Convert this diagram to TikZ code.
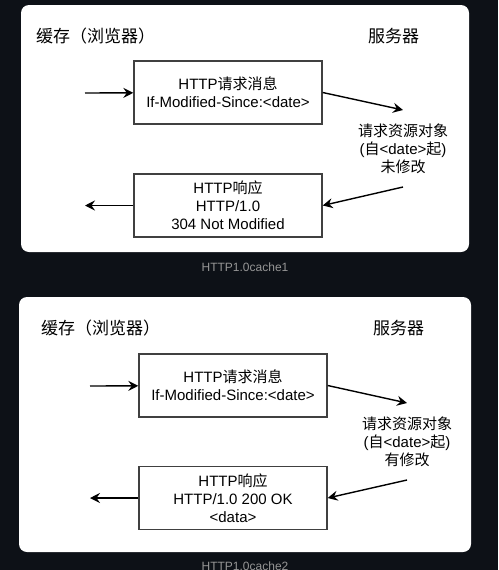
\documentclass[tikz,border=0pt]{standalone}
\usepackage{fontspec}
\setmainfont{Liberation Sans}
\newfontfamily\cjk{Noto Sans CJK SC}
\usetikzlibrary{arrows.meta}
\definecolor{pagebg}{RGB}{13,17,23}
\definecolor{capgray}{RGB}{150,150,150}
\newcommand{\msgfont}{\fontsize{15}{18}\selectfont}
\newcommand{\headfont}{\fontsize{17}{20}\selectfont}
\newcommand{\capfont}{\fontsize{12}{14}\selectfont}

\begin{document}
\begin{tikzpicture}[x=1pt, y=-1pt,
    panel/.style={fill=white, rounded corners=8pt},
    msgbox/.style={draw=black!75, line width=1.4pt, minimum width=188pt, minimum height=63pt, align=center, font=\msgfont, inner sep=0pt},
    titletext/.style={anchor=west, font=\headfont, inner sep=0pt},
    notetext/.style={align=center, font=\msgfont, inner sep=0pt},
    captext/.style={font=\capfont, text=capgray, inner sep=0pt},
    msgarrow/.style={-{Stealth[length=10pt, width=10pt, inset=3.5pt]}, line width=1.4pt}]
         \fill [pagebg] (0, 0) rectangle (498, 570);
         \useasboundingbox (0, 0) rectangle (498, 570);

         % first panel: 304 Not Modified
         \fill [panel] (21, 5) rectangle (469, 252);
         \node [titletext] (CL1) at (36, 36) {\cjk 缓存（浏览器）};
         \node [titletext] (SV1) at (368, 36) {\cjk 服务器};
         \node [msgbox] (RQ1) at (228, 92.5) {HTTP{\cjk 请求消息}\\If-Modified-Since:<date>};
         \node [msgbox] (RS1) at (228, 205.5) {HTTP{\cjk 响应}\\HTTP/1.0\\304 Not Modified};
         \node [notetext] (NT1) at (403, 149) {{\cjk 请求资源对象}\\({\cjk 自}<date>{\cjk 起})\\{\cjk 未修改}};
         \coordinate (IN1) at (85, 93);
         \coordinate (SA1) at (403, 110);
         \coordinate (SB1) at (403, 187);
         \coordinate (OUT1) at (85, 205.5);
         \draw [msgarrow] (IN1) -- (RQ1);
         \draw [msgarrow] (RQ1.east) -- (SA1);
         \draw [msgarrow] (SB1) -- (RS1.east);
         \draw [msgarrow] (RS1) -- (OUT1);
         \node [captext] (CP1) at (245, 267) {HTTP1.0cache1};

         % second panel: 200 OK
         \fill [panel] (19, 297) rectangle (471, 552);
         \node [titletext] (CL2) at (41, 328) {\cjk 缓存（浏览器）};
         \node [titletext] (SV2) at (373, 328) {\cjk 服务器};
         \node [msgbox] (RQ2) at (233, 385.5) {HTTP{\cjk 请求消息}\\If-Modified-Since:<date>};
         \node [msgbox] (RS2) at (233, 498) {HTTP{\cjk 响应}\\HTTP/1.0 200 OK\\<data>};
         \node [notetext] (NT2) at (407, 441.5) {{\cjk 请求资源对象}\\({\cjk 自}<date>{\cjk 起})\\{\cjk 有修改}};
         \coordinate (IN2) at (90, 386);
         \coordinate (SA2) at (407, 403);
         \coordinate (SB2) at (407, 480);
         \coordinate (OUT2) at (90, 498);
         \draw [msgarrow] (IN2) -- (RQ2);
         \draw [msgarrow] (RQ2.east) -- (SA2);
         \draw [msgarrow] (SB2) -- (RS2.east);
         \draw [msgarrow] (RS2) -- (OUT2);
         \node [captext] (CP2) at (245, 566.5) {HTTP1.0cache2};
 \end{tikzpicture}
\end{document}
